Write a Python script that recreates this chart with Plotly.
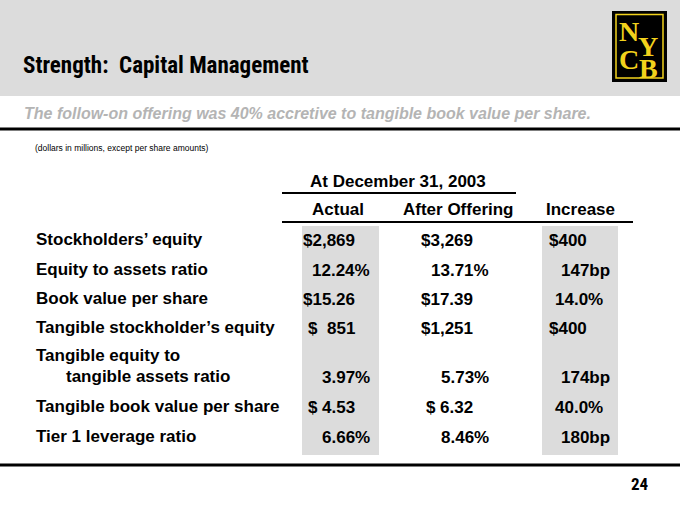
import plotly.graph_objects as go

# ---- data ----
title = "Strength:  Capital Management"
subtitle = "The follow-on offering was 40% accretive to tangible book value per share."
note = "(dollars in millions, except per share amounts)"
group_header = "At December 31, 2003"
col_headers = ["Actual", "After Offering", "Increase"]
row_labels = ["Stockholders’ equity", "Equity to assets ratio", "Book value per share",
              "Tangible stockholder’s equity", "Tangible equity to|tangible assets ratio",
              "Tangible book value per share", "Tier 1 leverage ratio"]
actual = ["$2,869", "12.24%", "$15.26", "$ 851", "3.97%", "$ 4.53", "6.66%"]
after_offering = ["$3,269", "13.71%", "$17.39", "$1,251", "5.73%", "$ 6.32", "8.46%"]
increase = ["$400", "147bp", "14.0%", "$400", "174bp", "40.0%", "180bp"]
page_number = "24"
logo_letters = ["N", "Y", "C", "B"]

# ---- layout constants ----
W, H = 680, 510
SANS = "Liberation Sans, Arial, sans-serif"
NARROW = "Roboto Condensed, Liberation Sans, sans-serif"
SERIF = "Liberation Serif, Times New Roman, serif"
GRAY = "#dcdcdc"
YELLOW = "#f2d21c"
row_y = [240, 270, 299, 328, 377, 407, 437]

fig = go.Figure()
fig.add_trace(go.Scatter(x=[0, W], y=[0, H], mode="markers", marker=dict(opacity=0), hoverinfo="skip", showlegend=False))

shapes = []
ann = []

def text(x, y, s, size=17, color="black", xa="left", family=SANS, bold=True, italic=False):
    t = s
    if bold:
        t = "<b>" + t + "</b>"
    if italic:
        t = "<i>" + t + "</i>"
    ann.append(dict(x=x, y=y, xref="x", yref="y", text=t, showarrow=False, xanchor=xa, yanchor="middle",
                    font=dict(family=family, size=size, color=color)))

# header band
shapes.append(dict(type="rect", x0=0, x1=W, y0=0, y1=96, fillcolor=GRAY, line=dict(width=0), layer="below"))
text(21, 65, title, size=23, family=NARROW)
text(22, 113, subtitle, size=16, color="#b4b4b4", italic=True)
shapes.append(dict(type="line", x0=0, x1=W, y0=129, y1=129, line=dict(color="black", width=3)))
text(33, 148, note, size=8.5, bold=False)

# logo
shapes.append(dict(type="rect", x0=612, x1=667, y0=11, y1=82, fillcolor="black", line=dict(width=0)))
shapes.append(dict(type="rect", x0=616, x1=663, y0=14.5, y1=78, line=dict(color=YELLOW, width=1.5)))
for ch, lx, ly in zip(logo_letters, [629, 648, 629, 648.5], [31, 46, 59, 68]):
    ann.append(dict(x=lx, y=ly, xref="x", yref="y", text="<b>" + ch + "</b>", showarrow=False,
                    xanchor="center", yanchor="middle",
                    font=dict(family=SERIF, size=28, color=YELLOW)))

# table shading
shapes.append(dict(type="rect", x0=302, x1=379, y0=226, y1=455, fillcolor=GRAY, line=dict(width=0), layer="below"))
shapes.append(dict(type="rect", x0=542, x1=618, y0=226, y1=455, fillcolor=GRAY, line=dict(width=0), layer="below"))

# table headers
text(398, 181, group_header, xa="center")
shapes.append(dict(type="line", x0=282, x1=516, y0=193, y1=193, line=dict(color="black", width=2)))
for h, cx in zip(col_headers, [338, 458, 580]):
    text(cx, 209, h, xa="center")
shapes.append(dict(type="line", x0=282, x1=633, y0=222, y1=222, line=dict(color="black", width=2)))

# row labels
for lab, y in zip(row_labels, row_y):
    if "|" in lab:
        a, b = lab.split("|")
        text(34, 355, a)
        text(64, y - 1, b)
    else:
        text(34, y - 1, lab)

def place(val, y, left, money_right, pct_right, bp_right):
    if val.startswith("$ "):
        text(left, y, "$")
        text(money_right, y, val[2:], xa="right")
    elif val.startswith("$"):
        text(money_right, y, val, xa="right")
    elif val.endswith("bp"):
        text(bp_right, y, val, xa="right")
    else:
        text(pct_right, y, val, xa="right")

for i, y in enumerate(row_y):
    place(actual[i], y, 306, 357, 372, 372)
    place(after_offering[i], y, 424, 475, 491, 491)
    place(increase[i], y, 553, 589, 605, 612)

# bottom
shapes.append(dict(type="line", x0=0, x1=W, y0=465, y1=465, line=dict(color="black", width=3)))
text(651, 484, page_number, size=17, xa="right", family=NARROW)

fig.update_layout(
    width=W, height=H, margin=dict(l=0, r=0, t=0, b=0),
    paper_bgcolor="white", plot_bgcolor="white",
    xaxis=dict(range=[0, W], visible=False, fixedrange=True),
    yaxis=dict(range=[H, 0], visible=False, fixedrange=True),
    shapes=shapes, annotations=ann, showlegend=False,
)
fig.write_html("out.html", config={"displayModeBar": False},
               post_script="document.body.style.margin='0';")
